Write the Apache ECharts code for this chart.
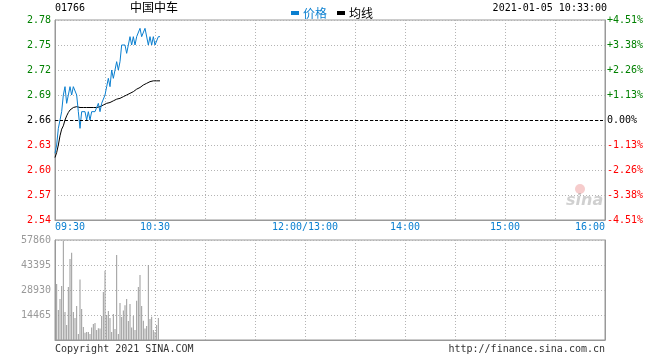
<!DOCTYPE html>
<html><head><meta charset="utf-8">
<script src="https://cdn.jsdelivr.net/npm/echarts@6/dist/echarts.min.js"></script>
<style>html,body{margin:0;padding:0;background:#fff}#c{width:660px;height:360px}</style>
</head><body><div id="c"></div>
<script>
// ---- data ----
const stockCode = '01766';
const stockName = '中国中车';
const timestamp = '2021-01-05 10:33:00';
const prevClose = 2.66;
const priceMin = 2.54, priceMax = 2.78, priceStep = 0.03;
const volMax = 57860, volStep = 14465;
const timeTickLabels = { 0: '09:30', 60: '10:30', 150: '12:00/13:00', 210: '14:00', 270: '15:00', 330: '16:00' };

const price = [2.62,2.63,2.65,2.66,2.67,2.69,2.70,2.68,2.69,2.70,
  2.69,2.70,2.70,2.69,2.67,2.65,2.67,2.67,2.67,2.66,
  2.67,2.66,2.67,2.67,2.67,2.67,2.68,2.67,2.68,2.68,
  2.69,2.70,2.71,2.70,2.72,2.71,2.72,2.73,2.72,2.73,
  2.75,2.75,2.75,2.74,2.75,2.76,2.75,2.76,2.75,2.76,
  2.76,2.77,2.76,2.76,2.77,2.77,2.75,2.76,2.75,2.76,
  2.75,2.75,2.76,2.76];

const avgPrice = [2.615,2.621,2.630,2.641,2.649,2.653,2.660,2.665,2.669,2.672,
  2.674,2.675,2.676,2.676,2.676,2.675,2.675,2.675,2.675,2.675,
  2.675,2.675,2.675,2.675,2.675,2.675,2.676,2.676,2.677,2.678,
  2.679,2.680,2.681,2.681,2.682,2.683,2.684,2.685,2.685,2.686,
  2.687,2.688,2.689,2.690,2.691,2.692,2.693,2.694,2.695,2.697,
  2.698,2.699,2.701,2.702,2.703,2.704,2.705,2.706,2.706,2.707,
  2.707,2.707,2.707,2.707];

const volume = [null,32400,17400,23700,31200,57400,16200,8700,30700,46900,
  50500,16200,12700,19700,3500,35000,17900,7500,4200,4600,
  4600,3500,7300,9300,9800,5800,6800,6700,13900,27800,
  40100,14500,16800,12700,4600,15000,6400,49200,3500,21400,
  13300,17000,20100,23700,11000,20800,7300,13900,5800,22700,
  30700,37600,19700,11200,6700,8100,43400,12100,13500,5800,
  4600,8700,12700];

// minute categories 09:30-12:00 then 13:00-16:00
const minutes = [];
for (let m = 0; m <= 330; m++) {
  let t = m <= 150 ? 9 * 60 + 30 + m : 13 * 60 + (m - 150);
  const hh = String(Math.floor(t / 60)).padStart(2, '0');
  const mm = String(t % 60).padStart(2, '0');
  minutes.push(hh + ':' + mm);
}

const MONO = 'DejaVu Sans Mono';
const CJK = 'Noto Sans CJK SC';
const GREEN = '#008000', RED = '#ff0000';
const BLUE = '#0a7fd0';
const GRIDC = '#b4b4b4';
const BORDER = '#999999';

function priceColor(v) {
  const d = Math.round((v - prevClose) * 1000);
  return d > 0 ? GREEN : (d < 0 ? RED : '#000');
}
const isGrid = (i) => i % 30 === 0 && i !== 0 && i !== 330;

const chart = echarts.init(document.getElementById('c'), null, { renderer: 'canvas' });
chart.setOption({
  animation: false,
  backgroundColor: '#fff',
  grid: [
    { left: 55, top: 20, width: 550, height: 200, show: true, borderColor: BORDER, borderWidth: 1 },
    { left: 55, top: 240, width: 550, height: 100, show: true, borderColor: BORDER, borderWidth: 1 }
  ],
  legend: {
    left: 286, top: 2, itemWidth: 8, itemHeight: 4, itemGap: 10, icon: 'rect',
    textStyle: { fontFamily: CJK, fontSize: 12, padding: [0, 0, 0, -1] },
    selectedMode: false,
    data: [
      { name: '价格', textStyle: { color: BLUE } },
      { name: '均线', textStyle: { color: '#000' } }
    ]
  },
  xAxis: [
    {
      type: 'category', gridIndex: 0, data: minutes, boundaryGap: false,
      axisLine: { show: true, lineStyle: { color: BORDER } },
      axisTick: { show: false },
      axisLabel: {
        interval: (i) => timeTickLabels[i] !== undefined,
        formatter: (v, i) => timeTickLabels[i] || '',
        color: BLUE, fontFamily: MONO, fontSize: 10, margin: 2,
        alignMinLabel: 'left', alignMaxLabel: 'right'
      },
      splitLine: { show: true, interval: isGrid, lineStyle: { color: GRIDC, type: [1, 2] } }
    },
    {
      type: 'category', gridIndex: 1, data: minutes, boundaryGap: false,
      axisLine: { show: true, lineStyle: { color: BORDER } },
      axisTick: { show: false }, axisLabel: { show: false },
      splitLine: { show: true, interval: isGrid, lineStyle: { color: GRIDC, type: [1, 2] } }
    }
  ],
  yAxis: [
    {
      type: 'value', gridIndex: 0, min: priceMin, max: priceMax, interval: priceStep,
      axisLine: { show: true, lineStyle: { color: BORDER } }, axisTick: { show: false },
      axisLabel: {
        formatter: (v) => v.toFixed(2), color: (v) => priceColor(v),
        fontFamily: MONO, fontSize: 10, margin: 4, padding: [0, 0, 6, 0]
      },
      splitLine: { show: true, lineStyle: { color: GRIDC, type: [1, 2] } }
    },
    {
      type: 'value', gridIndex: 0, position: 'right', min: priceMin, max: priceMax, interval: priceStep,
      axisLine: { show: true, lineStyle: { color: BORDER } }, axisTick: { show: false },
      axisLabel: {
        formatter: (v) => {
          const p = (v - prevClose) / prevClose * 100;
          const s = Math.abs(p).toFixed(2) + '%';
          return Math.abs(p) < 0.005 ? '0.00%' : (p > 0 ? '+' : '-') + s;
        },
        color: (v) => priceColor(v),
        fontFamily: MONO, fontSize: 10, margin: 2, padding: [0, 0, 6, 0]
      },
      splitLine: { show: false }
    },
    {
      type: 'value', gridIndex: 1, min: 0, max: volMax, interval: volStep,
      axisLine: { show: true, lineStyle: { color: BORDER } }, axisTick: { show: false },
      axisLabel: { showMinLabel: false, formatter: (v) => String(Math.round(v)), color: '#999', fontFamily: MONO, fontSize: 10, margin: 4, padding: [0, 0, 6, 0] },
      splitLine: { show: true, lineStyle: { color: GRIDC, type: [1, 2] } }
    },
    {
      type: 'value', gridIndex: 1, position: 'right', min: 0, max: volMax, interval: volStep,
      axisLine: { show: true, lineStyle: { color: BORDER } }, axisTick: { show: false },
      axisLabel: { show: false }, splitLine: { show: false }
    }
  ],
  series: [
    {
      name: '均线', type: 'line', xAxisIndex: 0, yAxisIndex: 0, data: avgPrice,
      showSymbol: false, color: '#000', lineStyle: { color: '#000', width: 1 }, z: 3,
      markLine: {
        silent: true, symbol: ['none', 'none'], label: { show: false },
        lineStyle: { color: '#000', type: [3, 2], width: 1 },
        data: [{ yAxis: prevClose }]
      }
    },
    {
      name: '价格', type: 'line', xAxisIndex: 0, yAxisIndex: 0, data: price,
      showSymbol: false, color: BLUE, lineStyle: { color: BLUE, width: 1 }, z: 4
    },
    {
      name: '成交量', type: 'bar', xAxisIndex: 1, yAxisIndex: 2, data: volume,
      barWidth: 1, itemStyle: { color: '#9a9a9a' }
    }
  ],
  graphic: [
    { type: 'text', left: 55, top: 3, style: { text: stockCode, font: '10px "' + MONO + '"', fill: '#000' } },
    { type: 'text', left: 130, top: 1, style: { text: stockName, font: '12px "' + CJK + '"', fill: '#000' } },
    { type: 'text', right: 53, top: 3, style: { text: timestamp, font: '10px "' + MONO + '"', fill: '#000' } },
    { type: 'text', left: 55, top: 344, style: { text: 'Copyright 2021 SINA.COM', font: '10px "' + MONO + '"', fill: '#333' } },
    { type: 'text', right: 55, top: 344, style: { text: 'http://finance.sina.com.cn', font: '10px "' + MONO + '"', fill: '#333' } },
    { type: 'circle', shape: { cx: 580, cy: 189, r: 5 }, style: { fill: 'rgba(230,110,110,0.35)' } },
    { type: 'text', left: 566, top: 193, style: { text: 'sina', font: 'italic bold 16px "DejaVu Sans"', fill: 'rgba(150,150,150,0.45)' } }
  ]
});
</script>
</body></html>
